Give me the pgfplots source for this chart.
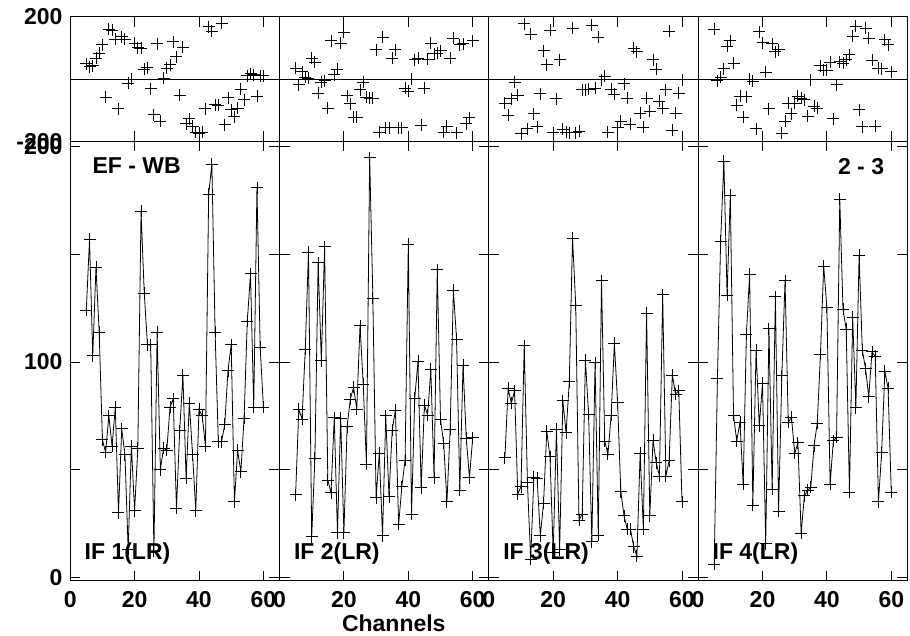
\documentclass[border=0pt]{standalone}
\usepackage{pgfplots}
\pgfplotsset{compat=1.18}
\usepackage{pgfplotstable}
\usepackage{fontspec}
\setmainfont{Liberation Sans}

\pgfplotstableread{
ch amp ph
5 124 49
6 157 40
7 103 43
8 144 67
9 114 83
10 64 110
11 58 -58
12 75 160
13 61 157
14 79 128
15 30 -95
16 69 135
17 57 128
18 13 -13
19 61 0
20 31 115
21 60 101
22 170 98
23 132 32
24 108 36
25 108 -31
26 12 -114
27 114 113
28 50 -135
29 60 3
30 59 35
31 79 46
32 83 120
33 32 72
34 68 -52
35 94 102
36 46 -143
37 81 -128
38 57 -152
39 31 -170
40 78 -174
41 75 -170
42 61 -96
43 178 168
44 192 154
45 114 -82
46 63 -85
47 63 179
48 71 -147
49 96 -60
50 108 -98
51 35 -121
52 59 -93
53 49 -32
54 74 -66
55 119 11
56 141 17
57 79 14
58 181 -55
59 107 11
60 79 11
}\colA

\pgfplotstableread{
ch amp ph
5 38.4 35
6 78 -18
7 73.5 24
8 105.9 6
9 151.1 3
10 18.9 67
11 55.3 53
12 146.1 -45
13 100.6 -11
14 153.6 -5
15 45.2 -93
16 39.3 123
17 74.1 14
18 20.7 32
19 74 115
20 20.7 150
21 70 -53
22 82.8 -79
23 88.3 -122
24 78.2 -122
25 116.9 -34
26 89.8 -11
27 52.6 -59
28 195 -61
29 129.6 -61
30 37 94
31 57.6 -170
32 19.3 134
33 75.1 -156
34 37.5 -156
35 68.4 67
36 77.7 94
37 24.6 -156
38 42.1 -156
39 54.5 -29
40 154.8 -39
41 29.4 0
42 83.1 62
43 100.3 67
44 41.6 -149
45 80 -29
46 75.4 64
47 96.6 115
48 46.3 81
49 143 83
50 73.4 91
51 62.2 -170
52 35.1 -151
53 68.7 67
54 133.4 131
55 110.5 -172
56 40.5 110
57 98.6 113
58 64.6 -143
59 46.3 -124
60 64.8 123
}\colB

\pgfplotstableread{
ch amp ph
5 55.6 -77
6 87.8 -117
7 80.8 -64
8 86.7 -10
9 38.7 -52
10 42.1 -176
11 107.6 177
12 44 -160
13 8.4 144
14 46.4 -111
15 46 -153
16 19.3 -47
17 34.4 91
18 67.8 46
19 56 157
20 11.4 -172
21 68.9 -64
22 12.7 62
23 82 -162
24 67.2 -170
25 90.8 -172
26 157.6 163
27 126.5 -172
28 26.5 -168
29 29.4 -34
30 100.8 -34
31 75.8 -32
32 16.5 173
33 99.7 -30
34 19.6 134
35 137.9 -2
36 63.3 9
37 57.1 -170
38 75.4 -32
39 108.7 -48
40 81.1 -156
41 39.8 -135
42 28.5 -15
43 22.3 -62
44 22.3 -146
45 14.2 99
46 9.9 88
47 57.6 -109
48 22.3 -154
49 122.8 -61
50 28.5 -103
51 63.8 62
52 53.2 32
53 47 -71
54 131.3 -93
55 47 -34
56 54.2 154
57 94 -165
58 85.1 -109
59 86.7 -45
60 35.1 -2
}\colC

\pgfplotstableread{
ch amp ph
5 6 160
6 92.4 -5
7 156.2 6
8 193.4 33
9 131 106
10 177.6 123
11 75.2 51
12 63.3 -85
13 72 -55
14 43.2 -122
15 113 -57
16 140.7 0
17 33.6 -7
18 105.6 -159
19 70.4 152
20 90.1 117
21 15.5 21
22 115.6 -95
23 40.9 113
24 130.3 88
25 30.8 94
26 93.6 -174
27 137.9 -135
28 72 -77
29 74.3 -111
30 57.6 -77
31 62.5 -55
32 20.4 -61
33 37.8 -66
34 40.5 -119
35 41.8 -2
36 61.1 -87
37 71.5 -93
38 103.6 43
39 144.6 28
40 125.4 28
41 43.3 53
42 63.4 -128
43 65 -18
44 175.6 56
45 124.5 51
46 115.2 62
47 39.6 78
48 120.8 138
49 78.8 170
50 149.7 -98
51 105.6 -153
52 96.9 163
53 83.9 131
54 104.8 60
55 102.6 -151
56 35 35
57 57.9 33
58 95.8 126
59 87.8 110
60 39.4 24
}\colD

\pgfplotsset{
  base/.style={
    scale only axis, width=209.3pt, xmin=0, xmax=65, anchor=south west,
    tick align=inside, major tick length=10pt,
    axis line style={line width=1pt, black},
    tick style={line width=0.9pt, black},
    every tick label/.append style={font=\fontsize{23}{23}\selectfont\bfseries},
    /pgf/number format/assume math mode=true,
    xtick={0,20,40,60},
    xticklabel style={inner sep=0pt, yshift=-11pt},
    yticklabel style={inner sep=0pt, xshift=-7.5pt},
  },
  amp/.style={base, height=439.4pt, ymin=-1.6, ymax=202.6, ytick={0,50,100,150,200}},
  ph/.style={base, height=124.6pt, ymin=-200, ymax=200, ytick={-200,200},
    xticklabels={},
    extra y ticks={0}, extra y tick labels={},
    extra y tick style={grid=major, major grid style={black, line width=0.9pt}, major tick length=0pt}},
  ampline/.style={black, line width=0.8pt, mark=+, mark size=6pt, mark options={solid, black, line width=0.9pt}},
  phmark/.style={only marks, mark=+, mark size=6pt, mark options={black, line width=0.9pt}},
}

\begin{document}
\begin{tikzpicture}
\useasboundingbox (0pt,0pt) rectangle (910pt,-636pt);

% column 1
\begin{axis}[amp, at={(70.2pt,-580.7pt)}, yticklabels={0,,100,,200}]
\addplot[ampline] table[x=ch,y=amp]{\colA};
\end{axis}
\begin{axis}[ph, at={(70.2pt,-141.3pt)}, yticklabels={-200,200}]
\addplot[phmark] table[x=ch,y=ph]{\colA};
\end{axis}

% column 2
\begin{axis}[amp, at={(279.5pt,-580.7pt)}, yticklabels={}]
\addplot[ampline] table[x=ch,y=amp]{\colB};
\end{axis}
\begin{axis}[ph, at={(279.5pt,-141.3pt)}, yticklabels={}]
\addplot[phmark] table[x=ch,y=ph]{\colB};
\end{axis}

% column 3
\begin{axis}[amp, at={(488.8pt,-580.7pt)}, yticklabels={}]
\addplot[ampline] table[x=ch,y=amp]{\colC};
\end{axis}
\begin{axis}[ph, at={(488.8pt,-141.3pt)}, yticklabels={}]
\addplot[phmark] table[x=ch,y=ph]{\colC};
\end{axis}

% column 4
\begin{axis}[amp, at={(698.1pt,-580.7pt)}, yticklabels={}]
\addplot[ampline] table[x=ch,y=amp]{\colD};
\end{axis}
\begin{axis}[ph, at={(698.1pt,-141.3pt)}, yticklabels={}]
\addplot[phmark] table[x=ch,y=ph]{\colD};
\end{axis}

\tikzset{lab/.style={inner sep=0pt, font=\fontsize{23}{23}\selectfont\bfseries}}
\node[lab, anchor=base west] at (92.3pt,-174pt) {EF - WB};
\node[lab, anchor=base east] at (884.3pt,-174.3pt) {2 - 3};
\node[lab, anchor=base west] at (84.5pt,-559.5pt) {IF 1(LR)};
\node[lab, anchor=base west] at (293.8pt,-559.5pt) {IF 2(LR)};
\node[lab, anchor=base west] at (503.1pt,-559.5pt) {IF 3(LR)};
\node[lab, anchor=base west] at (712.4pt,-559.5pt) {IF 4(LR)};
\node[lab, anchor=base west] at (341.8pt,-631pt) {Channels};
\end{tikzpicture}
\end{document}
